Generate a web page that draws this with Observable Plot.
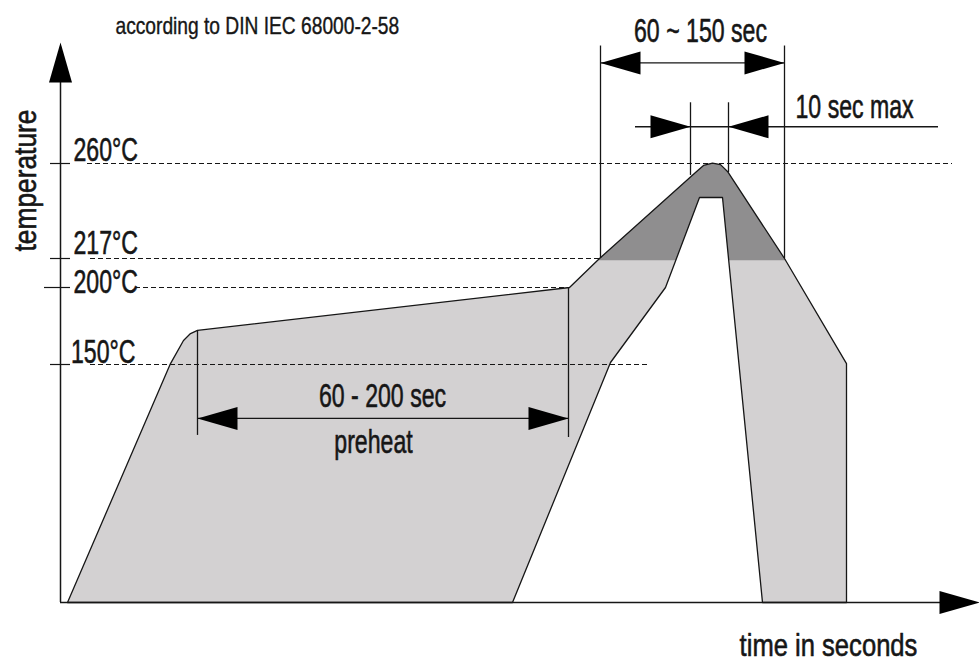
<!DOCTYPE html>
<html><head><meta charset="utf-8">
<script src="https://cdn.jsdelivr.net/npm/d3@7"></script>
<script src="https://cdn.jsdelivr.net/npm/@observablehq/plot@0.6"></script>
<style>html,body{margin:0;padding:0;background:#fff;} svg{display:block;}</style>
</head><body><div id="chart"></div>
<script>
// ---- data (schematic reflow profile; time in s, temperature in °C) ----
const profileTime = [7, 110, 123, 130, 137, 509, 539, 635, 643, 652, 660, 667, 724, 786, 786, 702, 662, 639, 605, 550, 452];
const profileTemp = [0, 150.6, 165.6, 170.1, 172.1, 200, 217, 255.9, 259.1, 260.2, 259.5, 256.4, 217, 150.6, 0, 0, 244.6, 244.6, 200, 151.3, 0];
const levelTemps = [260, 217, 200, 150];
const levelLabels = ["260°C", "217°C", "200°C", "150°C"];
const levelFrom = [27, 30, 75, 30];
const levelTo = [892, 540, 508, 590];
const liquidus = 216;
// dimension lines
const spanLabels = ["60 - 200 sec", "60 ~ 150 sec", "10 sec max"];
const spanFrom = [137, 540, 630];
const spanTo = [508, 724, 668];
const spanTemp = [116, 305.7, 276.7];
const guideTime = [137, 508, 540, 724, 630, 668];
const guideLow = [105.3, 104, 217, 217, 254.6, 255.9];
const guideHigh = [172.1, 200, 313.4, 313.4, 287.6, 287.6];
const timeMax = 919, tempMax = 315;
const subtitle = "according to DIN IEC 68000-2-58";
const xTitle = "time in seconds";
const yTitle = "temperature";

// ---- scales (schematic, piecewise temperature axis) ----
const tempStops = [0, 150, 200, 217, 260, 315];
const yStops = [602, 364, 287, 258, 163, 42];
const yS = d3.scaleLinear().domain(tempStops).range(yStops);

const profile = profileTime.map((t, i) => ({t, T: profileTemp[i]}));
// part of the profile above the liquidus (clip in screen space)
function clipAbove(pts, T0) {
  const y0 = yS(T0), out = [];
  const inside = p => yS(p.T) <= y0 + 1e-9;
  for (let i = 0; i < pts.length; i++) {
    const cur = pts[i], prev = pts[(i + pts.length - 1) % pts.length];
    const ci = inside(cur), pi = inside(prev);
    if (ci !== pi) {
      const yp = yS(prev.T), yc = yS(cur.T);
      const f = (y0 - yp) / (yc - yp);
      out.push({t: prev.t + f * (cur.t - prev.t), T: T0});
    }
    if (ci) out.push(cur);
  }
  return out;
}
const upper = clipAbove(profile, liquidus);
const levels = levelTemps.map((T, i) => ({T, label: levelLabels[i], a: levelFrom[i], b: levelTo[i]}));
const spans = spanLabels.map((s, i) => ({s, a: spanFrom[i], b: spanTo[i], T: spanTemp[i]}));
const guides = guideTime.map((t, i) => ({t, lo: guideLow[i], hi: guideHigh[i]}));
const heads = [
  {t: 0, T: tempMax, r: 0}, {t: timeMax, T: 0, r: 90},
  {t: spans[0].a, T: spans[0].T, r: -90}, {t: spans[0].b, T: spans[0].T, r: 90},
  {t: spans[1].a, T: spans[1].T, r: -90}, {t: spans[1].b, T: spans[1].T, r: 90},
  {t: spans[2].a, T: spans[2].T, r: 90}, {t: spans[2].b, T: spans[2].T, r: -90}
];
const headSymbol = {draw(ctx) { const L = 40, w = 11.5; ctx.moveTo(0, 0); ctx.lineTo(-w, L); ctx.lineTo(w, L); ctx.closePath(); }};

const font = "Liberation Sans, Arial, sans-serif";
const ink = "#161616";
const txt = {fontFamily: font, fill: ink, stroke: ink, strokeWidth: 0.6};

const chart = Plot.plot({
  width: 979, height: 663,
  x: {domain: [0, timeMax], range: [60, 979], axis: null},
  y: {type: "linear", domain: tempStops, range: yStops, axis: null},
  marks: [
    Plot.line(profile, {x: "t", y: "T", curve: "linear-closed", fill: "#d3d1d2", stroke: "none"}),
    Plot.line(upper, {x: "t", y: "T", curve: "linear-closed", fill: "#8f8e8f", stroke: "none"}),
    Plot.line(profile, {x: "t", y: "T", curve: "linear-closed", stroke: ink, strokeWidth: 1.3}),
    Plot.ruleY(levels, {y: "T", x1: "a", x2: "b", stroke: ink, strokeWidth: 1.1, strokeDasharray: "5,3"}),
    Plot.ruleY(levels, {y: "T", x1: d => d.T === 200 ? -16 : -10, x2: 10, stroke: ink, strokeWidth: 1.2}),
    Plot.ruleX(guides, {x: "t", y1: "lo", y2: "hi", stroke: ink, strokeWidth: 1.3}),
    Plot.ruleY(spans, {y: "T", x1: d => d.s === "10 sec max" ? 575 : d.a, x2: d => d.s === "10 sec max" ? 878 : d.b, stroke: ink, strokeWidth: 1.3}),
    Plot.ruleX([0], {y1: 0, y2: tempMax - 10, stroke: ink, strokeWidth: 1.5}),
    Plot.ruleY([0], {x1: 0, x2: timeMax - 10, stroke: ink, strokeWidth: 1.5}),
    Plot.dot(heads, {x: "t", y: "T", rotate: "r", symbol: headSymbol, fill: "#000", stroke: "none"}),
    // labels
    Plot.text([levels[0]], {x: 13, y: "T", text: "label", textAnchor: "start", lineAnchor: "bottom", dy: -3, fontSize: 34, ...txt}),
    Plot.text([levels[1]], {x: 13, y: "T", text: "label", textAnchor: "start", lineAnchor: "bottom", dy: -5, fontSize: 34, ...txt}),
    Plot.text([levels[2]], {x: 13, y: "T", text: "label", textAnchor: "start", lineAnchor: "bottom", dy: 5, fontSize: 34, ...txt}),
    Plot.text([levels[3]], {x: 75, y: "T", text: "label", textAnchor: "end", lineAnchor: "bottom", dy: -2, fontSize: 34, ...txt}),
    Plot.text([spans[0]], {x: 322, y: 122.9, text: "s", lineAnchor: "bottom", fontSize: 34, ...txt}),
    Plot.text(["preheat"], {x: 313, y: 94.5, text: d => d, lineAnchor: "bottom", fontSize: 34, ...txt}),
    Plot.text([spans[1]], {x: 640, y: 315.2, text: "s", lineAnchor: "bottom", fontSize: 34, ...txt}),
    Plot.text([spans[2]], {x: 735, y: 280.8, text: "s", textAnchor: "start", lineAnchor: "bottom", fontSize: 34, ...txt}),
    Plot.text([xTitle], {x: 768, y: -34, text: d => d, lineAnchor: "bottom", fontSize: 32, ...txt}),
    Plot.text([yTitle], {x: -25, y: 252.3, text: d => d, rotate: -90, lineAnchor: "bottom", fontSize: 31, ...txt}),
    Plot.text([subtitle], {x: 55, y: 318.8, text: d => d, textAnchor: "start", lineAnchor: "bottom", fontSize: 24, ...txt, strokeWidth: 0.4})
  ]
});

// condense the labels horizontally (the original uses a condensed typeface)
const squeezeBy = new Map([[xTitle, 0.8], [yTitle, 0.85], [subtitle, 0.8]]);
chart.querySelectorAll("text").forEach(el => {
  const s = squeezeBy.get(el.textContent) ?? 0.68;
  const x = el.getAttribute("x") || 0, y = el.getAttribute("y") || 0;
  const tr = el.getAttribute("transform") || "";
  el.setAttribute("transform", `${tr} translate(${x},${y}) scale(${s},1)`);
  el.setAttribute("x", 0); el.setAttribute("y", 0);
});
document.getElementById("chart").appendChild(chart);
</script>
</body></html>
